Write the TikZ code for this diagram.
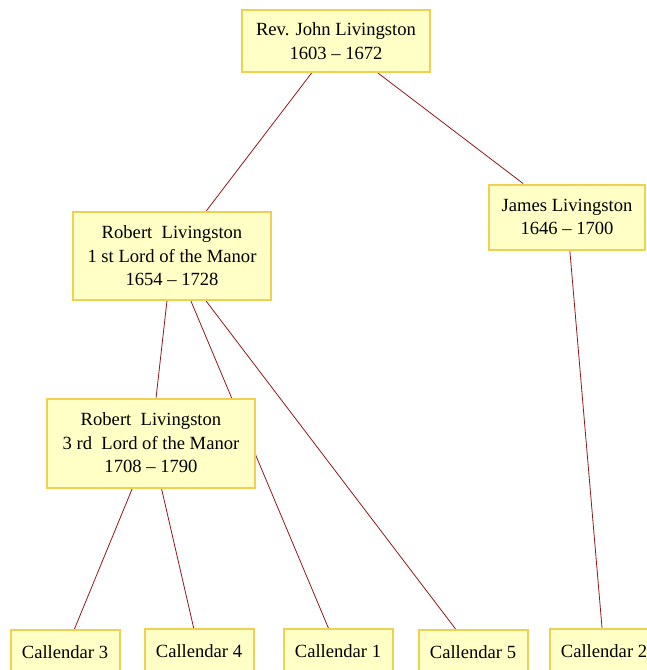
\documentclass[tikz,border=0pt]{standalone}
\usepackage{xcolor}
\usepackage{fontspec}
\setmainfont{Liberation Serif}
\usepackage{tikz}
\usetikzlibrary{backgrounds}

\definecolor{boxfill}{HTML}{FFFFC6}
\definecolor{boxline}{HTML}{F0D050}
\definecolor{linkred}{HTML}{8B1A1A}

\tikzset{
  person/.style={draw=boxline, fill=boxfill, line width=2pt, align=center,
    inner sep=0pt, font=\fontsize{18.6}{23.5}\selectfont},
  heir/.style={person, minimum width=109pt, minimum height=44pt},
  link/.style={draw=linkred, line width=0.8pt},
}

\begin{document}
\begin{tikzpicture}[x=1pt,y=-1pt]
    \clip (0,0) rectangle (647,670);

    \node[person, minimum width=188pt, minimum height=62pt] (john) at (336,41)
      {Rev. John Livingston\\1603 -- 1672};
    \node[person, minimum width=156pt, minimum height=65pt] (james) at (567,217)
      {James Livingston\\1646 -- 1700};
    \node[person, minimum width=198pt, minimum height=88pt] (robert1) at (172,256)
      {Robert~ Livingston\\1 st Lord of the Manor\\1654 -- 1728};
    \node[person, minimum width=208pt, minimum height=89pt] (robert3) at (151,443)
      {Robert~ Livingston\\3 rd~ Lord of the Manor\\1708 -- 1790};

    \node[heir] (cal3) at (65,652) {Callendar 3};
    \node[heir] (cal4) at (199,651) {Callendar 4};
    \node[heir] (cal1) at (338,651) {Callendar 1};
    \node[heir] (cal5) at (473,652) {Callendar 5};
    \node[heir] (cal2) at (604,651) {Callendar 2};

    \begin{scope}[on background layer]
      \draw[link] (john) -- (robert1);
      \draw[link] (john) -- (james);
      \draw[link] (robert1) -- (robert3);
      \draw[link] (robert1) -- (cal1);
      \draw[link] (robert1) -- (cal5);
      \draw[link] (robert3) -- (cal3);
      \draw[link] (robert3) -- (cal4);
      \draw[link] (james) -- (cal2);
    \end{scope}
\end{tikzpicture}
\end{document}
